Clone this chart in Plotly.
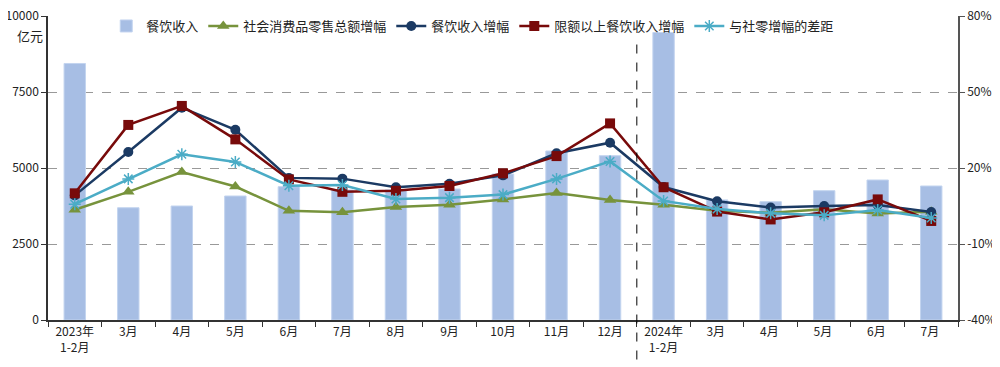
import plotly.graph_objects as go
from plotly.subplots import make_subplots

categories = ["2023年<br>1-2月", "3月", "4月", "5月", "6月", "7月", "8月", "9月", "10月", "11月", "12月",
              "2024年<br>1-2月", "3月 ", "4月 ", "5月 ", "6月 ", "7月 "]

revenue = [8438, 3693, 3750, 4079, 4386, 4276, 4280, 4309, 4803, 5559, 5405,
           9458, 3950, 3892, 4254, 4605, 4408]
retail_growth = [3.5, 10.6, 18.4, 12.7, 3.1, 2.5, 4.6, 5.5, 7.6, 10.1, 7.4,
                 5.5, 3.1, 2.3, 3.7, 2.0, 2.7]
catering_growth = [9.2, 26.3, 43.8, 35.1, 16.1, 15.8, 12.4, 13.8, 17.1, 25.8, 30.0,
                   12.5, 6.9, 4.4, 5.0, 5.4, 2.6]
above_quota_growth = [10.0, 37.0, 44.5, 31.3, 15.5, 10.6, 11.0, 12.9, 17.9, 24.7, 37.6,
                      12.4, 2.8, -0.3, 2.5, 7.6, -0.9]
gap = [5.7, 15.7, 25.4, 22.4, 13.0, 13.3, 7.8, 8.3, 9.5, 15.7, 22.6,
       7.0, 3.8, 2.1, 1.3, 3.4, 0.3]

left_ticks = [0, 2500, 5000, 7500, 10000]
left_labels = ["0", "2500", "5000", "7500", "10000"]
right_ticks = [-40, -10, 20, 50, 80]
right_labels = ["-40%", "-10%", "20%", "50%", "80%"]

FONT = "Noto Sans CJK SC"

fig = make_subplots(specs=[[{"secondary_y": True}]])

fig.add_trace(go.Bar(x=categories, y=revenue, name="餐饮收入", width=0.4,
                     marker=dict(color="#a7bee4", line=dict(color="#c3d4ef", width=1))),
              secondary_y=False)

fig.add_trace(go.Scatter(x=categories, y=retail_growth, name="社会消费品零售总额增幅", mode="lines+markers",
                         line=dict(color="#77933c", width=2.5),
                         marker=dict(symbol="triangle-up", size=11, color="#77933c")),
              secondary_y=True)
fig.add_trace(go.Scatter(x=categories, y=catering_growth, name="餐饮收入增幅", mode="lines+markers",
                         line=dict(color="#1b3a63", width=2.5),
                         marker=dict(symbol="circle", size=10, color="#1b3a63")),
              secondary_y=True)
fig.add_trace(go.Scatter(x=categories, y=above_quota_growth, name="限额以上餐饮收入增幅", mode="lines+markers",
                         line=dict(color="#780a0a", width=2.5),
                         marker=dict(symbol="square", size=10, color="#780a0a")),
              secondary_y=True)
fig.add_trace(go.Scatter(x=categories, y=gap, name="与社零增幅的差距", mode="lines+markers",
                         line=dict(color="#4bacc6", width=2.5),
                         marker=dict(symbol="asterisk-open", size=10, color="#4bacc6",
                                     line=dict(color="#4bacc6", width=1.5))),
              secondary_y=True)

fig.add_shape(type="line", xref="x", yref="paper", x0=10.5, x1=10.5, y0=-0.13, y1=0.92,
              line=dict(color="black", width=1, dash="dash"))

fig.add_annotation(text="亿元", xref="paper", yref="paper", x=0, y=0.935, xanchor="right",
                   yanchor="middle", xshift=-3, showarrow=False, font=dict(family=FONT, size=13, color="#222"))

fig.update_layout(
    width=992, height=359,
    margin=dict(l=40, r=42, t=8, b=47, autoexpand=False),
    paper_bgcolor="white", plot_bgcolor="white",
    font=dict(family=FONT, size=12, color="#222"),
    showlegend=True,
    legend=dict(orientation="h", x=0.064, y=0.9916, xref="paper", yref="container",
                xanchor="left", yanchor="top",
                font=dict(family=FONT, size=13, color="#222"), bgcolor="rgba(0,0,0,0)",
                itemwidth=30, tracegroupgap=0),
    bargap=0.6,
)

fig.update_xaxes(type="category", range=[-0.5, len(categories) - 0.5], autorange=False,
                 domain=[0, 1],
                 showline=True, linecolor="#333", linewidth=1.5,
                 ticks="outside", tickson="boundaries", ticklen=5, tickcolor="#333",
                 showgrid=False, tickangle=0, automargin=False,
                 tickfont=dict(family=FONT, size=12, color="#222"))

fig.update_yaxes(range=[0, 10000], tickvals=left_ticks, ticktext=left_labels, showline=True,
                 linecolor="#333", linewidth=1.5, automargin=False, ticklabeloverflow="allow",
                 ticks="outside", ticklen=5, tickcolor="#333", showgrid=True, gridcolor="#999",
                 griddash="dash", gridwidth=1, zeroline=False,
                 tickfont=dict(family=FONT, size=12, color="#222"), secondary_y=False)
fig.update_yaxes(range=[-40, 80], tickvals=right_ticks, ticktext=right_labels, showline=True,
                 linecolor="#555", linewidth=1.5, ticks="outside", ticklen=5, tickcolor="#555",
                 showgrid=False, zeroline=False, automargin=False, ticklabeloverflow="allow",
                 tickfont=dict(family=FONT, size=12, color="#222"), secondary_y=True)

fig.write_html("out.html")
